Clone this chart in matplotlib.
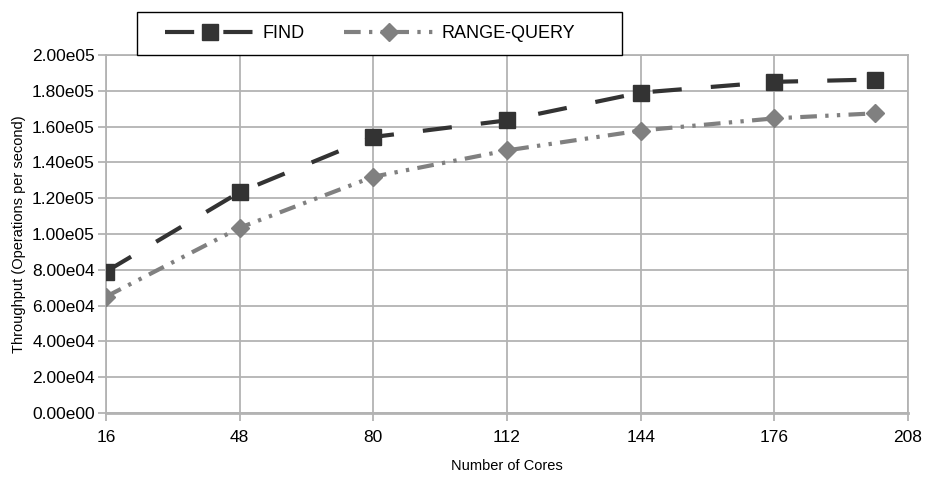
import matplotlib
matplotlib.use("Agg")
import matplotlib.pyplot as plt
from matplotlib.ticker import FuncFormatter, MultipleLocator
from matplotlib.patches import Rectangle

plt.rcParams['font.family'] = ['Liberation Sans', 'DejaVu Sans']

cores = [16, 48, 80, 112, 144, 176, 200]
find_vals = [7.9e4, 1.234e5, 1.542e5, 1.635e5, 1.79e5, 1.85e5, 1.863e5]
range_vals = [6.5e4, 1.035e5, 1.32e5, 1.467e5, 1.578e5, 1.646e5, 1.674e5]
x_ticks = [16, 48, 80, 112, 144, 176, 208]

fig = plt.figure(figsize=(9.28, 4.88), dpi=100)
ax = fig.add_axes([106/928, 1 - 413/488, (908-106)/928, (413-55)/488])

grid_c = '#b3b3b3'
l1, = ax.plot(cores, find_vals, color='#333333', lw=3, linestyle=(0, (7, 7)),
              marker='s', markersize=11, markerfacecolor='#333333',
              markeredgecolor='#333333', label='FIND', zorder=3)
l2, = ax.plot(cores, range_vals, color='#808080', lw=3,
              linestyle=(0, (4, 2, 0.8, 2, 0.8, 2)),
              marker='D', markersize=9, markerfacecolor='#808080',
              markeredgecolor='#808080', label='RANGE-QUERY', zorder=3)

ax.set_xlim(16, 208)
ax.set_ylim(0, 2.0e5)
ax.set_xticks(x_ticks)
ax.yaxis.set_major_locator(MultipleLocator(2e4))

def fmt(v, pos):
    if v == 0:
        return '0.00e00'
    s = '%.2e' % v
    m, e = s.split('e')
    return '%se%02d' % (m, int(e))

ax.yaxis.set_major_formatter(FuncFormatter(fmt))
ax.grid(True, color=grid_c, lw=1.3)
ax.set_axisbelow(True)
for s in ax.spines.values():
    s.set_color(grid_c)
    s.set_linewidth(1.3)
ax.spines['bottom'].set_linewidth(2)
ax.tick_params(axis='y', length=6, color=grid_c, width=1.3, labelsize=12.5, pad=2)
ax.tick_params(axis='x', length=6, color=grid_c, width=1.3, labelsize=12.5, pad=6)

ax.set_xlabel('Number of Cores', fontsize=10.5, labelpad=10)
ax.set_ylabel('Throughput (Operations per second)', fontsize=10.5, labelpad=4)

# legend box
fig.patches.append(Rectangle((137/928, 1 - 55/488), (622-137)/928, (55-12)/488,
                             transform=fig.transFigure, facecolor='white',
                             edgecolor='black', lw=1, zorder=5))
leg = fig.legend(handles=[l1, l2], loc='center left',
                 bbox_to_anchor=(165/928, 1 - 33.5/488),
                 ncol=2, fontsize=13, frameon=False,
                 handlelength=5.0, borderaxespad=0, borderpad=0,
                 columnspacing=2.2, handletextpad=0.4)
leg.set_zorder(6)

fig.savefig('out.png', dpi=100)
